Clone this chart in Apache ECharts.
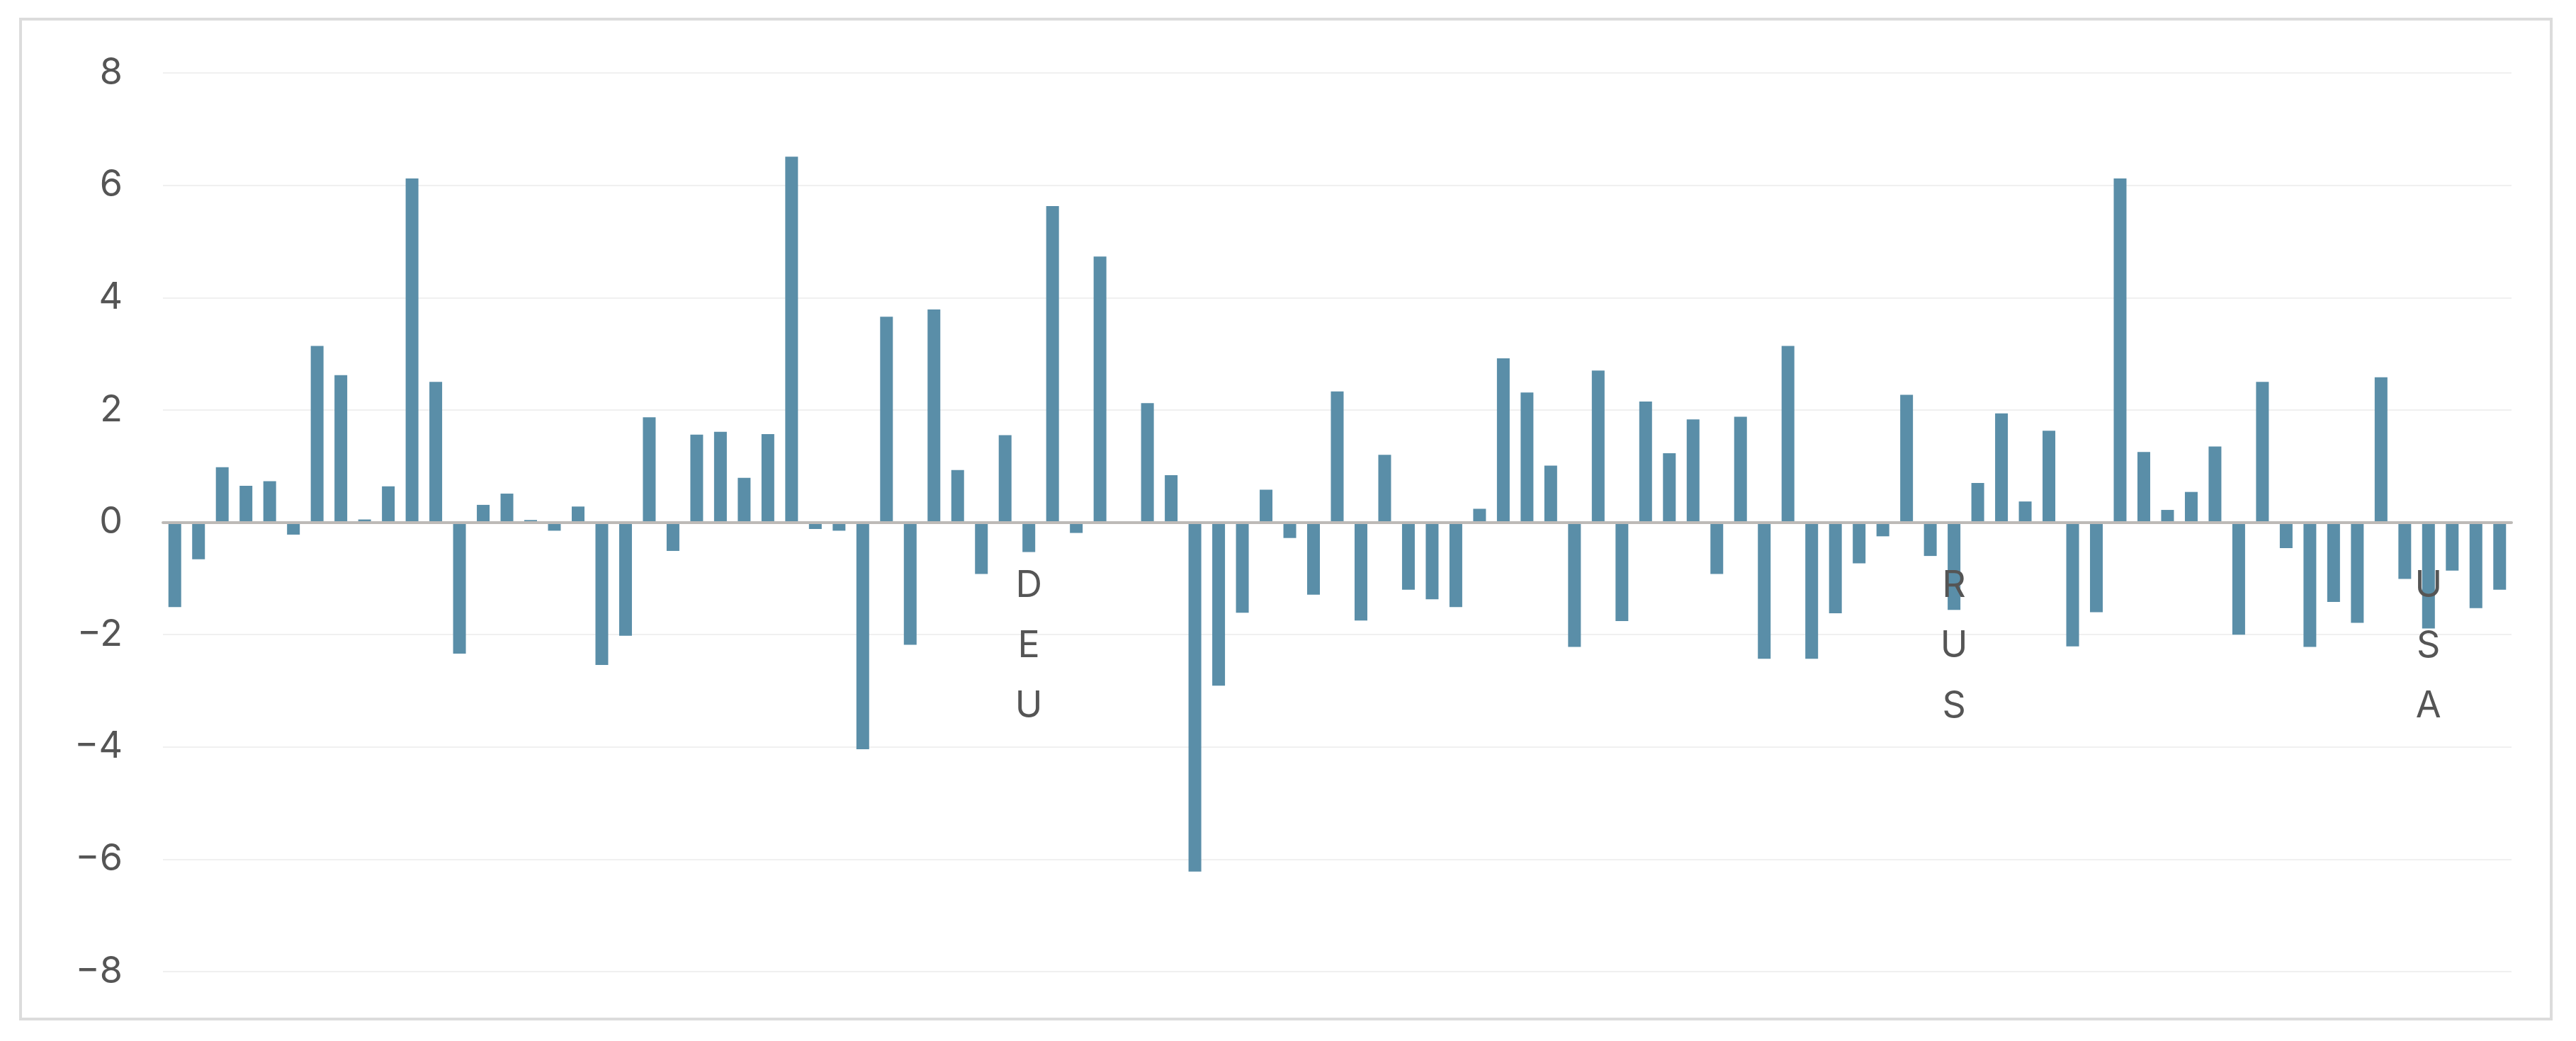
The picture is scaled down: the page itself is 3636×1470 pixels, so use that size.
<!DOCTYPE html>
<html>
<head>
<meta charset="utf-8">
<script src="https://cdn.jsdelivr.net/npm/echarts@6/dist/echarts.min.js"></script>
<style>
html,body{margin:0;padding:0;background:#fff;}
#chart{width:3636px;height:1470px;}
</style>
</head>
<body>
<div id="chart"></div>
<script>
// Values per category (99 countries)
const values = [
  -1.51, -0.66, 0.98, 0.65, 0.73, -0.22, 3.14, 2.62, 0.05, 0.64,
  6.12, 2.50, -2.34, 0.31, 0.51, 0.04, -0.15, 0.28, -2.54, -2.02,
  1.87, -0.51, 1.56, 1.61, 0.79, 1.57, 6.51, -0.12, -0.15, -4.04,
  3.66, -2.18, 3.79, 0.93, -0.92, 1.55, -0.53, 5.63, -0.19, 4.73,
  0, 2.12, 0.84, -6.22, -2.91, -1.61, 0.58, -0.28, -1.29, 2.33,
  -1.75, 1.20, -1.20, -1.37, -1.51, 0.24, 2.92, 2.31, 1.01, -2.22,
  2.70, -1.76, 2.15, 1.23, 1.83, -0.92, 1.88, -2.43, 3.14, -2.43,
  -1.62, -0.73, -0.25, 2.27, -0.60, -1.56, 0.70, 1.94, 0.37, 1.63,
  -2.21, -1.60, 6.12, 1.25, 0.22, 0.54, 1.35, -2.00, 2.50, -0.46,
  -2.22, -1.42, -1.79, 2.58, -1.01, -1.89, -0.86, -1.53, -1.20
];
// Only these categories carry a visible label
const labeledCodes = ['DEU', 'RUS', 'USA'];
const labeledIndex = [36, 75, 95];
// Category keys (one per bar); labelled ones use their country code
const categories = values.map((v, i) => {
  const k = labeledIndex.indexOf(i);
  return k >= 0 ? labeledCodes[k] : 'c' + i;
});
const yTicks = [-8, -6, -4, -2, 0, 2, 4, 6, 8];

const chart = echarts.init(document.getElementById('chart'));
chart.setOption({
  animation: false,
  backgroundColor: '#ffffff',
  graphic: [{
    type: 'rect',
    shape: { x: 29, y: 27, width: 3572, height: 1412 },
    style: { fill: 'none', stroke: '#dcdcdc', lineWidth: 4 },
    silent: true
  }],
  grid: { left: 230, right: 91, top: 103, bottom: 98, containLabel: false, outerBoundsMode: 'none' },
  xAxis: {
    type: 'category',
    data: categories,
    z: 5,
    axisLine: { onZero: true, lineStyle: { color: '#bdbab7', width: 4 } },
    axisTick: { show: false },
    splitLine: { show: false },
    axisLabel: {
      interval: 0,
      hideOverlap: false,
      margin: -587,
      fontFamily: 'Inter',
      fontSize: 52,
      lineHeight: 85,
      color: '#555555',
      formatter: function (val) {
        return labeledCodes.indexOf(val) >= 0 ? val.split('').join('\n') : '';
      }
    }
  },
  yAxis: {
    type: 'value',
    min: yTicks[0],
    max: yTicks[yTicks.length - 1],
    interval: 2,
    axisLine: { show: false },
    axisTick: { show: false },
    splitLine: { lineStyle: { color: '#f0f0f0', width: 2 } },
    axisLabel: {
      margin: 57,
      fontFamily: 'Inter',
      fontSize: 52,
      color: '#555555',
      formatter: function (v) { return String(v).replace('-', '\u2212'); }
    }
  },
  series: [{
    type: 'bar',
    data: values,
    barWidth: 18,
    itemStyle: { color: '#5a8ea8' },
    z: 2
  }]
});
</script>
</body>
</html>
